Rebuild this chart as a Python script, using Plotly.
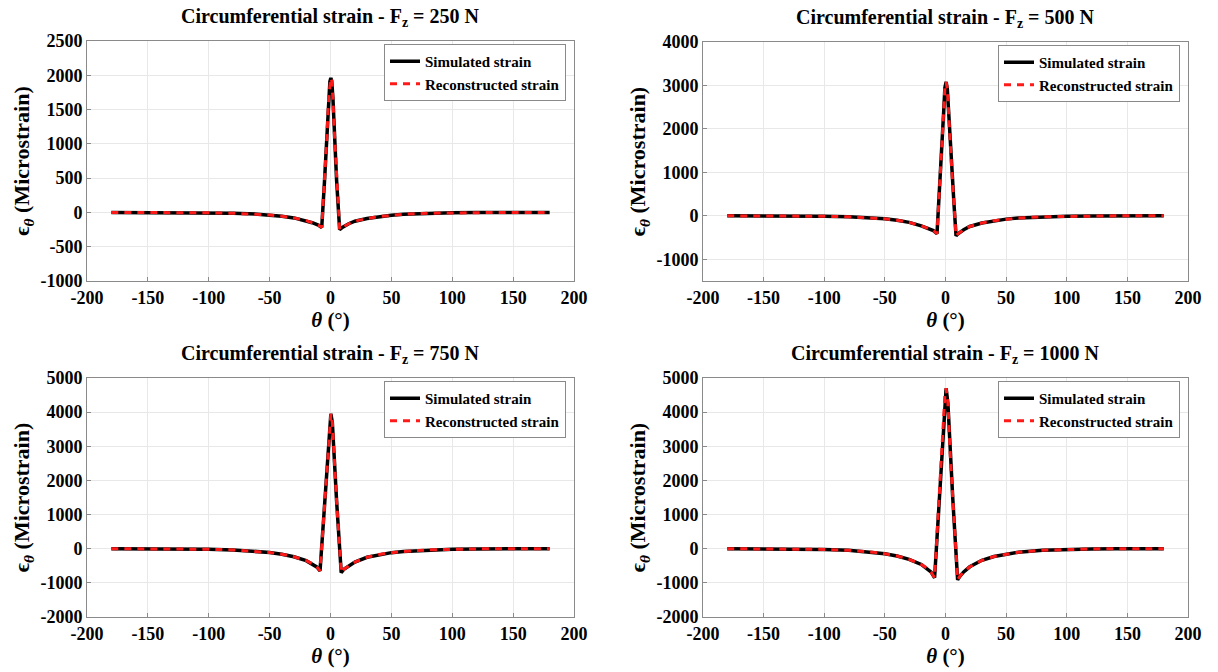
import plotly.graph_objects as go

# ---------------- data ----------------
forces = ["250", "500", "750", "1000"]

theta_250 = [-180, -160, -140, -120, -100, -80, -60, -50, -40, -30, -20, -15, -10, -7.2,
             -5, -3, -1.5, -0.5, 0.3, 1, 2, 3, 5, 7.5, 10, 15, 20, 30, 40, 50, 60, 80,
             100, 120, 140, 160, 180]
sim_250 = [0, 0, 0, -2, -5, -12, -25, -38, -55, -80, -120, -150, -185, -220,
           430, 1080, 1680, 1910, 1960, 1920, 1660, 1220, 470, -250, -215, -165, -128,
           -88, -60, -40, -27, -12, -5, -2, 0, 0, 0]
rec_250 = [0, 0, 0, -2, -5, -12, -25, -38, -55, -80, -120, -150, -185, -220,
           430, 1080, 1680, 1910, 1960, 1920, 1660, 1220, 470, -250, -215, -165, -128,
           -88, -60, -40, -27, -12, -5, -2, 0, 0, 0]

theta_500 = [-180, -160, -140, -120, -100, -80, -60, -50, -40, -30, -20, -15, -10, -7,
             -5, -3, -1.5, -0.5, 0.5, 1.5, 3, 5, 7, 8.7, 10, 15, 20, 30, 40, 50, 60, 80,
             100, 120, 140, 160, 180]
sim_500 = [0, 0, -2, -5, -10, -22, -48, -70, -100, -150, -230, -280, -340, -410,
           520, 1480, 2400, 2950, 3080, 2920, 2100, 1150, 270, -460, -420, -320, -245,
           -165, -112, -76, -50, -22, -10, -4, -1, 0, 0]
rec_500 = [0, 0, -2, -5, -10, -22, -48, -70, -100, -150, -230, -280, -340, -410,
           520, 1480, 2400, 2950, 3080, 2920, 2100, 1150, 270, -460, -420, -320, -245,
           -165, -112, -76, -50, -22, -10, -4, -1, 0, 0]

theta_750 = [-180, -160, -140, -120, -100, -80, -60, -50, -40, -30, -20, -15, -11, -8.6,
             -7, -5, -3, -1.5, -0.5, 0.3, 1.5, 3, 5, 7, 8.8, 11, 15, 20, 30, 40, 50, 60,
             80, 100, 120, 140, 160, 180]
sim_750 = [0, 0, -1, -6, -15, -35, -75, -110, -160, -235, -350, -440, -540, -650,
           180, 1230, 2300, 3250, 3800, 3950, 3700, 2550, 1400, 290, -700, -600, -500,
           -390, -250, -170, -115, -80, -35, -14, -5, 0, 0, 0]
rec_750 = [0, 0, -1, -6, -15, -35, -75, -110, -160, -235, -350, -440, -540, -650,
           180, 1230, 2300, 3250, 3800, 3950, 3700, 2550, 1400, 290, -700, -600, -500,
           -390, -250, -170, -115, -80, -35, -14, -5, 0, 0, 0]

theta_1000 = [-180, -160, -140, -120, -100, -80, -60, -50, -40, -30, -20, -15, -12, -9,
              -7, -5, -3, -1.5, -0.5, 0.5, 2, 4, 6, 8, 10, 12, 15, 20, 30, 40, 50, 60,
              80, 100, 120, 140, 160, 180]
sim_1000 = [0, 0, 0, -8, -20, -47, -100, -150, -215, -310, -460, -580, -680, -850,
            330, 1520, 2750, 3800, 4500, 4700, 4250, 2700, 1470, 270, -910, -800, -680,
            -530, -340, -230, -160, -105, -45, -18, -7, 0, 0, 0]
rec_1000 = [0, 0, 0, -8, -20, -47, -100, -150, -215, -310, -460, -580, -680, -850,
            330, 1520, 2750, 3800, 4500, 4700, 4250, 2700, 1470, 270, -910, -800, -680,
            -530, -340, -230, -160, -105, -45, -18, -7, 0, 0, 0]

x_ticks = [-200, -150, -100, -50, 0, 50, 100, 150, 200]
x_ticklabels = ["-200", "-150", "-100", "-50", "0", "50", "100", "150", "200"]
y_ticks_250 = [-1000, -500, 0, 500, 1000, 1500, 2000, 2500]
y_ticklabels_250 = ["-1000", "-500", "0", "500", "1000", "1500", "2000", "2500"]
y_ticks_500 = [-1000, 0, 1000, 2000, 3000, 4000]
y_ticklabels_500 = ["-1000", "0", "1000", "2000", "3000", "4000"]
y_ticks_750 = [-2000, -1000, 0, 1000, 2000, 3000, 4000, 5000]
y_ticklabels_750 = ["-2000", "-1000", "0", "1000", "2000", "3000", "4000", "5000"]
y_ticks_1000 = y_ticks_750
y_ticklabels_1000 = y_ticklabels_750

y_ranges = [[-1000, 2500], [-1500, 4000], [-2000, 5000], [-2000, 5000]]

# ---------------- figure ----------------
W, H = 1218, 672
FONT = "Liberation Serif"

panels = [
    dict(th=theta_250, sim=sim_250, rec=rec_250, yt=y_ticks_250, ytl=y_ticklabels_250,
         px=(87, 574), py=(41, 281)),
    dict(th=theta_500, sim=sim_500, rec=rec_500, yt=y_ticks_500, ytl=y_ticklabels_500,
         px=(703, 1188), py=(42, 281)),
    dict(th=theta_750, sim=sim_750, rec=rec_750, yt=y_ticks_750, ytl=y_ticklabels_750,
         px=(87, 574), py=(378, 617)),
    dict(th=theta_1000, sim=sim_1000, rec=rec_1000, yt=y_ticks_1000, ytl=y_ticklabels_1000,
         px=(703, 1188), py=(378, 617)),
]

fig = go.Figure()
layout = dict(
    width=W, height=H, margin=dict(l=0, r=0, t=0, b=0, autoexpand=False),
    paper_bgcolor="white", plot_bgcolor="white",
    font=dict(family=FONT, size=15, color="black", weight="bold"),
    annotations=[],
)

for i, p in enumerate(panels):
    n = "" if i == 0 else str(i + 1)
    leg = "legend" if i == 0 else f"legend{i + 1}"
    xa, ya = f"x{n}", f"y{n}"
    fig.add_trace(go.Scatter(x=p["th"], y=p["sim"], mode="lines", name="Simulated strain",
                             line=dict(color="black", width=3.5), xaxis=xa, yaxis=ya,
                             legend=leg))
    fig.add_trace(go.Scatter(x=p["th"], y=p["rec"], mode="lines", name="Reconstructed strain",
                             line=dict(color="#ff1a1a", width=3, dash="7px,6px"),
                             xaxis=xa, yaxis=ya, legend=leg))
    x0, x1 = p["px"][0] / W, p["px"][1] / W
    y0, y1 = 1 - p["py"][1] / H, 1 - p["py"][0] / H
    common = dict(showline=True, linecolor="#8a8a8a", linewidth=1, mirror=True,
                  showgrid=True, gridcolor="#e8e8e8", gridwidth=1, zeroline=False,
                  ticks="inside", ticklen=4, tickcolor="#8a8a8a", automargin=False,
                  tickfont=dict(family=FONT, size=18, color="black", weight="bold"))
    layout[f"xaxis{n}"] = dict(domain=[x0, x1], anchor=ya, range=[-200, 200],
                               tickvals=x_ticks, ticktext=x_ticklabels,
                               title=dict(text="<i>θ</i> (°)", standoff=4,
                                          font=dict(family=FONT, size=21, weight="bold")),
                               **common)
    layout[f"yaxis{n}"] = dict(domain=[y0, y1], anchor=xa, range=y_ranges[i],
                               tickvals=p["yt"], ticktext=p["ytl"],
                               title=dict(text="ϵ<sub><i>θ</i></sub> (Microstrain)",
                                          standoff=4, font=dict(family=FONT, size=22,
                                                                weight="bold")),
                               **common)
    layout[leg] = dict(x=(p["px"][1] - 8) / W, y=1 - (p["py"][0] + 3) / H,
                       xanchor="right", yanchor="top", bgcolor="white",
                       bordercolor="#8a8a8a", borderwidth=1,
                       font=dict(family=FONT, size=15, color="black", weight="bold"),
                       tracegroupgap=0, itemwidth=30)
    layout["annotations"].append(dict(
        text=f"Circumferential strain - F<sub>z</sub> = {forces[i]} N",
        x=(p["px"][0] + p["px"][1]) / 2 / W, y=1 - (p["py"][0] - 9) / H,
        xref="paper", yref="paper", xanchor="center", yanchor="bottom",
        showarrow=False, font=dict(family=FONT, size=20, color="black", weight="bold")))

fig.update_layout(**layout)
fig.update_traces(showlegend=True)
fig.write_html("out.html")
